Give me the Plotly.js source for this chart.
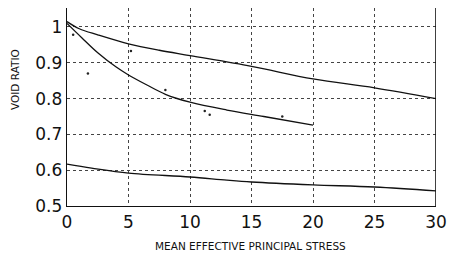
<!DOCTYPE html>
<html><head><meta charset="utf-8">
<script src="https://cdn.plot.ly/plotly-3.0.1.min.js"></script>
<style>html,body{margin:0;padding:0;background:#fff}#c{width:460px;height:255px}</style>
</head><body><div id="c"></div>
<script>
const upperX = [0, 1, 2.5, 5, 7.5, 10, 15, 20, 25, 30];
const upperY = [1.015, 0.995, 0.978, 0.953, 0.935, 0.92, 0.89, 0.855, 0.83, 0.80];
const middleX = [0, 1.2, 2.5, 4, 5, 6.5, 8, 10, 13, 16, 20];
const middleY = [1.01, 0.97, 0.928, 0.888, 0.866, 0.838, 0.812, 0.79, 0.768, 0.75, 0.726];
const lowerX = [0, 2, 5, 10, 13, 15, 20, 25, 30];
const lowerY = [0.617, 0.606, 0.592, 0.581, 0.572, 0.567, 0.559, 0.553, 0.542];
const dotsX = [0.5, 1.7, 5.2, 8, 11.2, 11.6, 17.5];
const dotsY = [0.978, 0.87, 0.933, 0.824, 0.765, 0.755, 0.75];
const xTicks = [0, 5, 10, 15, 20, 25, 30];
const yTicks = [0.5, 0.6, 0.7, 0.8, 0.9, 1];
const yTickText = ['0.5', '0.6', '0.7', '0.8', '0.9', '1'];
const xTitle = 'MEAN EFFECTIVE PRINCIPAL STRESS';
const yTitle = 'VOID RATIO';

const line = {color: '#111', width: 1.3, shape: 'spline', smoothing: 1};
const traces = [
  {x: upperX, y: upperY, mode: 'lines', line: line},
  {x: middleX, y: middleY, mode: 'lines', line: line},
  {x: lowerX, y: lowerY, mode: 'lines', line: line},
  {x: dotsX, y: dotsY, mode: 'markers', marker: {color: '#222', size: 2.5}}
];
const fam = 'DejaVu Sans, Arial, sans-serif';
const tickFont = {size: 17, family: fam, color: '#111'};
const titleFont = {size: 10.5, family: fam, color: '#111'};
const layout = {
  width: 460, height: 255,
  margin: {l: 67, r: 24, t: 8, b: 49},
  paper_bgcolor: '#fff', plot_bgcolor: '#fff',
  showlegend: false,
  xaxis: {
    range: [0, 30], tickvals: xTicks, ticktext: xTicks.map(String),
    showgrid: true, gridcolor: '#444', griddash: 'dot', gridwidth: 1,
    zeroline: false, showline: true, linecolor: '#111', linewidth: 1.3,
    ticks: '', tickfont: tickFont
  },
  yaxis: {
    range: [0.5, 1.053], tickvals: yTicks, ticktext: yTickText,
    showgrid: true, gridcolor: '#444', griddash: 'dot', gridwidth: 1,
    zeroline: false, showline: true, linecolor: '#111', linewidth: 1.3,
    ticks: '', tickfont: tickFont
  },
  annotations: [
    {text: xTitle, xref: 'paper', yref: 'paper', x: 0.5, y: 0, yshift: -40, xanchor: 'center', yanchor: 'middle', showarrow: false, font: titleFont, xshift: -1},
    {text: yTitle, xref: 'paper', yref: 'paper', x: 0, y: 1, xshift: -52, yshift: -72, xanchor: 'center', yanchor: 'middle', textangle: -90, showarrow: false, font: titleFont}
  ],
  shapes: [
    {type: 'line', xref: 'x', yref: 'paper', x0: 30, x1: 30, y0: 0, y1: 1, line: {color: '#111', width: 1.6}}
  ]
};
Plotly.newPlot('c', traces, layout, {staticPlot: true, displayModeBar: false});
</script>
</body></html>
